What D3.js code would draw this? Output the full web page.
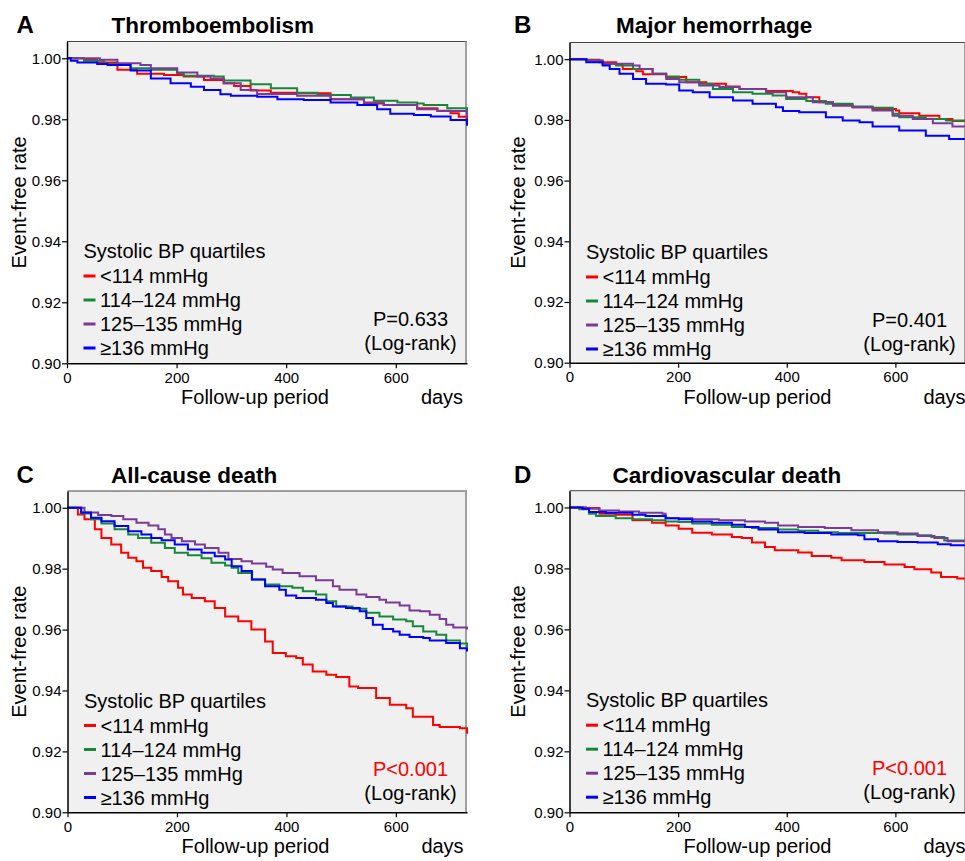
<!DOCTYPE html>
<html>
<head>
<meta charset="utf-8">
<script src="https://cdn.jsdelivr.net/npm/d3@7"></script>
<style>
  body { margin: 0; background: #fff; }
  svg { display: block; font-family: "Liberation Sans", Arial, sans-serif; }
</style>
</head>
<body>
<svg id="chart" width="965" height="861"></svg>
<script>
// Kaplan-Meier estimates: [day, event-free rate]
const groups = ["<114 mmHg", "114\u2013124 mmHg", "125\u2013135 mmHg", "\u2265136 mmHg"];
const colors = ["#ff0000", "#17873a", "#7a3a9a", "#0000ff"];
const yTicks = [0.90, 0.92, 0.94, 0.96, 0.98, 1.00];
const xTicks = [0, 200, 400, 600];

// A: thromboembolism
const thromboLow = [[0,1],[31,0.9997],[55,0.9986],[92,0.9962],[128,0.9949],[177,0.9945],[213,0.9940],[250,0.9929],[286,0.9918],[305,0.9909],[335,0.9894],[372,0.9887],[420,0.9885],[481,0.9866],[542,0.9852],[578,0.9847],[639,0.9836],[676,0.9828],[700,0.9820],[715,0.9808],[730,0.9792]];
const thromboQ2 = [[0,1],[31,0.9992],[68,0.9981],[116,0.9967],[153,0.9962],[201,0.9951],[213,0.9943],[268,0.9940],[286,0.9927],[335,0.9915],[372,0.9902],[420,0.9887],[457,0.9880],[518,0.9871],[560,0.9861],[603,0.9855],[639,0.9852],[651,0.9847],[694,0.9836],[730,0.9817]];
const thromboQ3 = [[0,1],[60,0.9995],[92,0.9984],[134,0.9978],[153,0.9967],[201,0.9953],[238,0.9940],[262,0.9934],[286,0.9918],[317,0.9896],[347,0.9883],[420,0.9877],[481,0.9866],[542,0.9855],[578,0.9847],[639,0.9833],[676,0.9827],[730,0.9806]];
const thromboHigh = [[0,1],[7,0.9992],[19,0.9986],[55,0.9981],[74,0.9978],[116,0.9960],[153,0.9934],[189,0.9918],[226,0.9907],[250,0.9896],[280,0.9882],[299,0.9877],[347,0.9874],[384,0.9866],[432,0.9863],[481,0.9855],[530,0.9847],[566,0.9833],[590,0.9818],[633,0.9814],[664,0.9809],[700,0.9798],[730,0.9779]];

// B: major hemorrhage
const bleedLow = [[0,1],[31,0.9998],[55,0.9990],[86,0.9982],[98,0.9968],[123,0.9960],[135,0.9950],[178,0.9941],[215,0.9924],[252,0.9919],[288,0.9910],[313,0.9902],[362,0.9895],[411,0.9891],[423,0.9886],[436,0.9875],[460,0.9858],[485,0.9851],[521,0.9842],[558,0.9836],[601,0.9831],[607,0.9822],[644,0.9814],[681,0.9803],[705,0.9796],[730,0.9782]];
const bleedQ2 = [[0,1],[31,0.9996],[61,0.9985],[86,0.9979],[117,0.9968],[153,0.9952],[178,0.9943],[202,0.9932],[239,0.9919],[264,0.9902],[301,0.9891],[337,0.9886],[374,0.9880],[399,0.9869],[436,0.9862],[472,0.9853],[521,0.9844],[558,0.9840],[595,0.9820],[607,0.9809],[656,0.9803],[693,0.9798],[730,0.9787]];
const bleedQ3 = [[0,1],[31,0.9996],[61,0.9985],[117,0.9979],[129,0.9968],[153,0.9952],[178,0.9935],[202,0.9924],[239,0.9913],[276,0.9908],[313,0.9902],[362,0.9891],[399,0.9875],[448,0.9858],[485,0.9847],[521,0.9842],[558,0.9831],[595,0.9814],[632,0.9803],[669,0.9789],[705,0.9778],[730,0.9760]];
const bleedHigh = [[0,1],[31,0.9990],[61,0.9979],[74,0.9968],[92,0.9952],[117,0.9935],[141,0.9919],[178,0.9917],[202,0.9897],[227,0.9891],[258,0.9875],[301,0.9864],[337,0.9853],[380,0.9842],[393,0.9829],[423,0.9825],[472,0.9809],[503,0.9798],[534,0.9792],[558,0.9778],[607,0.9765],[656,0.9748],[699,0.9737],[730,0.9732]];

// C: all-cause death
const deathLow = [[0,1],[19,0.9978],[31,0.9962],[50,0.9929],[62,0.9901],[80,0.9879],[98,0.9852],[111,0.9836],[126,0.9824],[138,0.9803],[153,0.9792],[172,0.9773],[184,0.9759],[202,0.9737],[211,0.9715],[227,0.9704],[251,0.9693],[269,0.9671],[288,0.9643],[312,0.9627],[336,0.9600],[361,0.9561],[375,0.9523],[399,0.9512],[418,0.9507],[430,0.9485],[448,0.9462],[473,0.9452],[491,0.9444],[515,0.9413],[531,0.9408],[564,0.9375],[589,0.9353],[619,0.9342],[631,0.9314],[668,0.9287],[680,0.9280],[717,0.9276],[730,0.9258]];
const deathQ2 = [[0,1],[25,0.9981],[43,0.9962],[62,0.9948],[86,0.9929],[111,0.9912],[129,0.9901],[153,0.9885],[178,0.9868],[196,0.9852],[220,0.9844],[245,0.9834],[263,0.9819],[288,0.9810],[300,0.9803],[312,0.9786],[337,0.9764],[361,0.9748],[387,0.9742],[411,0.9737],[430,0.9726],[454,0.9715],[473,0.9693],[491,0.9676],[521,0.9668],[546,0.9655],[570,0.9643],[595,0.9633],[619,0.9627],[631,0.9611],[650,0.9594],[674,0.9583],[692,0.9564],[717,0.9554],[730,0.9543]];
const deathQ3 = [[0,1],[31,0.9984],[56,0.9976],[80,0.9973],[102,0.9962],[126,0.9951],[148,0.9942],[166,0.9929],[178,0.9912],[190,0.9901],[209,0.9890],[233,0.9879],[251,0.9868],[276,0.9852],[294,0.9832],[318,0.9824],[337,0.9817],[363,0.9806],[375,0.9797],[393,0.9786],[424,0.9775],[454,0.9762],[485,0.9742],[497,0.9731],[528,0.9715],[546,0.9707],[570,0.9698],[582,0.9689],[607,0.9679],[625,0.9663],[644,0.9660],[662,0.9649],[680,0.9635],[692,0.9616],[705,0.9607],[730,0.9600]];
const deathHigh = [[0,1],[25,0.9984],[43,0.9967],[62,0.9956],[86,0.9940],[111,0.9923],[135,0.9912],[153,0.9901],[172,0.9893],[196,0.9879],[220,0.9863],[245,0.9852],[269,0.9841],[288,0.9830],[300,0.9808],[318,0.9792],[337,0.9764],[361,0.9742],[387,0.9731],[399,0.9712],[418,0.9704],[454,0.9698],[473,0.9687],[485,0.9676],[509,0.9671],[534,0.9660],[546,0.9638],[558,0.9616],[576,0.9602],[595,0.9594],[607,0.9583],[625,0.9576],[650,0.9572],[662,0.9564],[692,0.9556],[717,0.9539],[730,0.9528]];

// D: cardiovascular death
const cvLow = [[0,1],[30,0.9998],[55,0.9979],[85,0.9976],[116,0.9958],[152,0.9950],[177,0.9941],[201,0.9930],[226,0.9917],[262,0.9911],[299,0.9903],[317,0.9900],[336,0.9885],[360,0.9870],[378,0.9860],[421,0.9852],[446,0.9841],[482,0.9835],[501,0.9827],[543,0.9821],[580,0.9813],[617,0.9805],[635,0.9797],[666,0.9787],[684,0.9772],[714,0.9767],[730,0.9758]];
const cvQ2 = [[0,1],[18,0.9994],[36,0.9979],[49,0.9972],[85,0.9965],[116,0.9961],[152,0.9958],[177,0.9954],[201,0.9952],[226,0.9947],[262,0.9943],[299,0.9936],[336,0.9933],[384,0.9928],[421,0.9924],[458,0.9919],[494,0.9916],[580,0.9915],[604,0.9911],[641,0.9909],[666,0.9903],[690,0.9892],[730,0.9885]];
const cvQ3 = [[0,1],[30,0.9996],[55,0.9990],[91,0.9987],[128,0.9983],[171,0.9979],[177,0.9965],[226,0.9961],[275,0.9958],[323,0.9954],[360,0.9950],[384,0.9941],[421,0.9936],[470,0.9933],[519,0.9925],[568,0.9919],[604,0.9915],[641,0.9906],[672,0.9900],[696,0.9889],[730,0.9885]];
const cvHigh = [[0,1],[24,0.9996],[36,0.9985],[67,0.9983],[116,0.9976],[140,0.9972],[177,0.9965],[201,0.9961],[226,0.9954],[262,0.9950],[299,0.9943],[323,0.9936],[348,0.9928],[384,0.9919],[433,0.9916],[482,0.9911],[531,0.9909],[543,0.9896],[568,0.9889],[604,0.9887],[641,0.9885],[678,0.9879],[702,0.9876],[730,0.9867]];

const panels = [
  { letter: "A", title: "Thromboembolism", p: "P=0.633", pColor: "#000",
    left: 67, right: 467, top: 41.5, bottom: 363.3, titleY: 33.3, letterX: 16.5, titleX: 111.5, yLabelX: 19,
    series: [thromboLow, thromboQ2, thromboQ3, thromboHigh] },
  { letter: "B", title: "Major hemorrhage", p: "P=0.401", pColor: "#000",
    left: 569.5, right: 966, top: 42.5, bottom: 362.7, titleY: 33.3, letterX: 514, titleX: 616, yLabelX: 517.5,
    series: [bleedLow, bleedQ2, bleedQ3, bleedHigh] },
  { letter: "C", title: "All-cause death", p: "P<0.001", pColor: "#ff0000",
    left: 67.5, right: 467, top: 491, bottom: 812.3, titleY: 482.7, letterX: 16.5, titleX: 111, yLabelX: 19,
    series: [deathLow, deathQ2, deathQ3, deathHigh] },
  { letter: "D", title: "Cardiovascular death", p: "P<0.001", pColor: "#ff0000",
    left: 569.5, right: 966, top: 490.7, bottom: 812.3, titleY: 482.7, letterX: 514, titleX: 612.5, yLabelX: 517.5,
    series: [cvLow, cvQ2, cvQ3, cvHigh] }
];

const svg = d3.select("#chart");

panels.forEach((pn) => {
  const x = d3.scaleLinear().domain([0, 730]).range([pn.left, pn.right]);
  const y = d3.scaleLinear().domain([0.9, 1.0055]).range([pn.bottom, pn.top]);
  const g = svg.append("g");

  // plot background + frame
  g.append("rect")
    .attr("x", pn.left).attr("y", pn.top)
    .attr("width", pn.right - pn.left).attr("height", pn.bottom - pn.top)
    .attr("fill", "#f0f0f0");
  g.append("line")
    .attr("x1", pn.left).attr("x2", pn.right)
    .attr("y1", pn.top).attr("y2", pn.top)
    .attr("stroke", "#444").attr("stroke-width", 1);
  g.append("line")
    .attr("x1", pn.right - 1).attr("x2", pn.right - 1)
    .attr("y1", pn.top).attr("y2", pn.bottom)
    .attr("stroke", "#a0a0a0").attr("stroke-width", 2);

  // survival curves
  const line = d3.line()
    .x((d) => x(d[0]))
    .y((d) => y(d[1]))
    .curve(d3.curveStepAfter);

  g.selectAll(".km")
    .data(pn.series)
    .join("path")
    .attr("class", "km")
    .attr("d", line)
    .attr("fill", "none")
    .attr("stroke", (d, i) => colors[i])
    .attr("stroke-width", 2);

  // axes
  const yAxis = g.append("g")
    .attr("transform", `translate(${pn.left},0)`)
    .call(d3.axisLeft(y).tickValues(yTicks).tickFormat(d3.format(".2f")).tickSize(5).tickPadding(1).tickSizeOuter(0));
  const xAxis = g.append("g")
    .attr("transform", `translate(0,${pn.bottom})`)
    .call(d3.axisBottom(x).tickValues(xTicks).tickSize(5).tickPadding(4).tickSizeOuter(0));

  [yAxis, xAxis].forEach((ax) => {
    ax.select(".domain").attr("stroke", "#000").attr("stroke-width", 1.5);
    ax.selectAll(".tick line").attr("stroke", "#000").attr("stroke-width", 1.2);
    ax.selectAll(".tick text")
      .attr("fill", "#000")
      .style("font-family", '"Liberation Sans", Arial, sans-serif')
      .style("font-size", "15px");
  });

  // titles
  g.append("text")
    .attr("x", pn.letterX).attr("y", pn.titleY)
    .style("font-size", "24px").style("font-weight", "bold")
    .text(pn.letter);
  g.append("text")
    .attr("x", pn.titleX).attr("y", pn.titleY)
    .style("font-size", "22.5px").style("font-weight", "bold")
    .text(pn.title);

  // axis titles
  g.append("text")
    .attr("transform", `translate(${pn.yLabelX + 7},${(pn.top + pn.bottom) / 2}) rotate(-90)`)
    .attr("text-anchor", "middle")
    .style("font-size", "20px")
    .text("Event-free rate");
  g.append("text")
    .attr("x", pn.left + 188).attr("y", pn.bottom + 41)
    .attr("text-anchor", "middle")
    .style("font-size", "20px")
    .text("Follow-up period");
  g.append("text")
    .attr("x", pn.left + 375).attr("y", pn.bottom + 41)
    .attr("text-anchor", "middle")
    .style("font-size", "20px")
    .text("days");

  // legend
  const lg = g.append("g").attr("transform", `translate(${pn.left + 16.5},${pn.top})`);
  lg.append("text")
    .attr("x", 0).attr("y", 216.5)
    .style("font-size", "20px")
    .text("Systolic BP quartiles");
  const rows = lg.selectAll(".row")
    .data(groups)
    .join("g")
    .attr("class", "row")
    .attr("transform", (d, i) => `translate(0,${241.5 + i * 24})`);
  rows.append("line")
    .attr("x1", 0).attr("x2", 12)
    .attr("y1", -7).attr("y2", -7)
    .attr("stroke", (d, i) => colors[i])
    .attr("stroke-width", 3);
  rows.append("text")
    .attr("x", 16.5).attr("y", 0)
    .style("font-size", "20px")
    .text((d) => d);

  // log-rank
  g.append("text")
    .attr("x", pn.right - 56.5).attr("y", pn.top + 284.5)
    .attr("text-anchor", "middle")
    .attr("fill", pn.pColor)
    .style("font-size", "20px")
    .text(pn.p);
  g.append("text")
    .attr("x", pn.right - 56.5).attr("y", pn.top + 308.5)
    .attr("text-anchor", "middle")
    .style("font-size", "20px")
    .text("(Log-rank)");
});
</script>
</body>
</html>
